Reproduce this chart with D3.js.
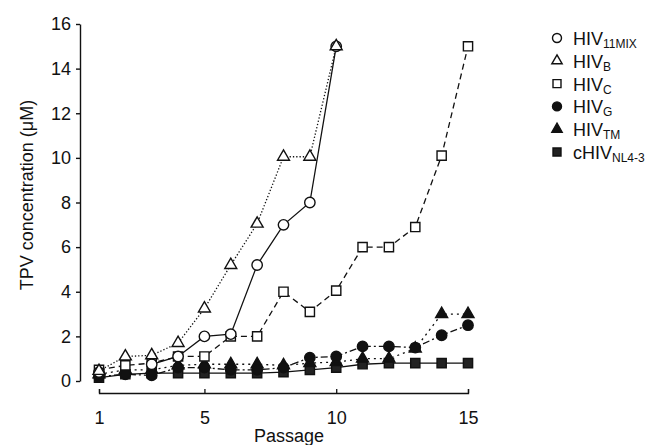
<!DOCTYPE html>
<html>
<head>
<meta charset="utf-8">
<script src="https://cdn.jsdelivr.net/npm/d3@7"></script>
<style>
  body { margin: 0; background: #fff; }
  text { font-family: "Liberation Sans", Arial, sans-serif; fill: #111; }
</style>
</head>
<body>
<script>
// passages on the x axis
var passages = [1, 2, 3, 4, 5, 6, 7, 8, 9, 10, 11, 12, 13, 14, 15];
var xTicks = [1, 5, 10, 15];
var yTicks = [0, 2, 4, 6, 8, 10, 12, 14, 16];

// TPV concentration (uM) per passage, null = not measured
var hiv11mix = [0.4, null, 0.75, 1.1, 2.0, 2.1, 5.2, 7.0, 8.0, 15];
var hivB     = [0.45, 1.1, 1.15, 1.7, 3.25, 5.2, 7.05, 10.05, 10.05, 15];
var hivC     = [0.5, 0.7, 0.8, 1.1, 1.1, 2.0, 2.0, 4.0, 3.1, 4.05, 6.0, 6.0, 6.9, 10.1, 15];
var hivG     = [0.2, 0.3, 0.25, 0.6, 0.6, 0.5, 0.5, 0.6, 1.05, 1.1, 1.55, 1.55, 1.5, 2.05, 2.5];
var hivTM    = [0.3, 0.5, 0.5, 0.7, 0.75, 0.75, 0.75, 0.7, 0.8, 0.85, 1.0, 1.0, 1.45, 3.0, 3.0];
var nl43     = [0.15, 0.3, 0.35, 0.35, 0.35, 0.35, 0.35, 0.4, 0.5, 0.6, 0.75, 0.8, 0.8, 0.8, 0.8];

var series = [
  {name: "HIV", sub: "11MIX", values: hiv11mix, shape: d3.symbolCircle, size: 85, fill: "#fff", dash: null},
  {name: "HIV", sub: "B", values: hivB, shape: d3.symbolTriangle, size: 62, fill: "#fff", dash: "1.3,2"},
  {name: "HIV", sub: "C", values: hivC, shape: d3.symbolSquare, size: 85, fill: "#fff", dash: "6,4"},
  {name: "HIV", sub: "G", values: hivG, shape: d3.symbolCircle, size: 85, fill: "#111", dash: "7,3,2,3"},
  {name: "HIV", sub: "TM", values: hivTM, shape: d3.symbolTriangle, size: 62, fill: "#111", dash: "2,4"},
  {name: "cHIV", sub: "NL4-3", values: nl43, shape: d3.symbolSquare, size: 85, fill: "#222", dash: null}
];

var width = 649, height = 445;

var svg = d3.select("body").append("svg")
    .attr("width", width)
    .attr("height", height);

var x = d3.scaleLinear().domain([1, 15]).range([99, 468]);
var y = d3.scaleLinear().domain([0, 16]).range([381, 24]);

// y axis
var yAxis = svg.append("g")
    .attr("transform", "translate(80,0)")
    .call(d3.axisLeft(y).tickValues(yTicks).tickSize(4).tickSizeOuter(0).tickPadding(5));
yAxis.selectAll("text").style("font-size", "18px").attr("font-family", null);
yAxis.selectAll("path, line").attr("stroke", "#111").attr("stroke-width", 1.4);

// x axis, detached below the plot, ticks pointing up
var xAxis = svg.append("g")
    .attr("transform", "translate(0,393)")
    .call(d3.axisBottom(x).tickValues(xTicks).tickSize(-4).tickSizeOuter(-4).tickPadding(18));
xAxis.selectAll("text").style("font-size", "18px").attr("font-family", null);
xAxis.selectAll("path, line").attr("stroke", "#111").attr("stroke-width", 1.3);

svg.append("text")
    .attr("x", 289)
    .attr("y", 442)
    .attr("text-anchor", "middle")
    .style("font-size", "18px")
    .text("Passage");

svg.append("text")
    .attr("transform", "translate(33,195) rotate(-90)")
    .attr("text-anchor", "middle")
    .style("font-size", "18px")
    .text("TPV concentration (\u03bcM)");

var line = d3.line()
    .defined(function(d) { return d != null; })
    .x(function(d, i) { return x(passages[i]); })
    .y(function(d) { return y(d); });

// draw filled series first, open ones on top
var order = [5, 4, 3, 2, 0, 1];
order.forEach(function(k) {
  var s = series[k];
  svg.append("path")
      .datum(s.values)
      .attr("fill", "none")
      .attr("stroke", "#111")
      .attr("stroke-width", 1.3)
      .attr("stroke-dasharray", s.dash)
      .attr("d", line);
});
order.forEach(function(k) {
  var s = series[k];
  var pts = s.values.map(function(v, i) { return {p: passages[i], v: v}; })
      .filter(function(d) { return d.v != null; });
  svg.selectAll(null)
      .data(pts)
      .enter()
      .append("path")
      .attr("transform", function(d) { return "translate(" + x(d.p) + "," + y(d.v) + ")"; })
      .attr("d", d3.symbol().type(s.shape).size(s.size))
      .attr("fill", s.fill)
      .attr("stroke", "#111")
      .attr("stroke-width", 1.4);
});

// legend
var legend = svg.append("g").attr("transform", "translate(557,38)");
series.forEach(function(s, i) {
  var g = legend.append("g").attr("transform", "translate(0," + (i * 22.8) + ")");
  g.append("path")
      .attr("d", d3.symbol().type(s.shape).size(s.size * 0.75))
      .attr("fill", s.fill)
      .attr("stroke", "#111")
      .attr("stroke-width", 1.4);
  var t = g.append("text")
      .attr("x", 16)
      .attr("y", 7)
      .style("font-size", "18px");
  t.append("tspan").text(s.name);
  t.append("tspan")
      .attr("dy", 3)
      .style("font-size", "12px")
      .text(s.sub);
});
</script>
</body>
</html>
